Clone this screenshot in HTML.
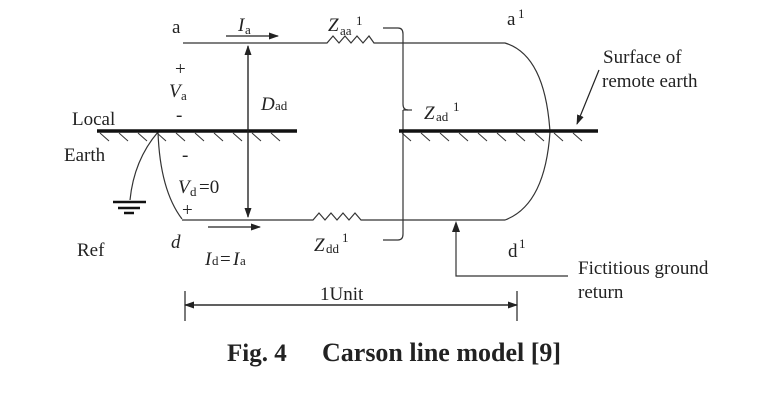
<!DOCTYPE html>
<html><head><meta charset="utf-8"><style>
html,body{margin:0;padding:0;background:#fff;}
svg{display:block;font-family:"Liberation Serif",serif;}
</style></head><body>
<svg width="772" height="408" viewBox="0 0 772 408" xmlns="http://www.w3.org/2000/svg">
<defs>
<marker id="ah" markerWidth="10" markerHeight="8" refX="9" refY="4" orient="auto" markerUnits="userSpaceOnUse"><path d="M0,0.5 L10,4 L0,7.5 Z" fill="#222"/></marker>
</defs>
<g fill="none" stroke="#333" stroke-width="1.2">
<path d="M183,43 H327 l6,-7 l6,7 l6,-7 l6,7 l6,-7 l6,7 l6,-7 l5,7 H505 Q545,55 550,132 Q545,205 505,220 H361 l-6,-7 l-6,7 l-6,-7 l-6,7 l-6,-7 l-6,7 l-6,-7 l-6,7 H182"/>
<path d="M182,219 Q160,190 158,132"/>
<path d="M158,132 Q134,160 130,200"/>
<path d="M383,28 H398 Q403,28 403,34 V104 Q403,110 408,110 M403,110 Q403,116 403,120 V234 Q403,240 398,240 H383"/>
<path d="M403,110 H412"/>
<path d="M568,276 H456 V228"/>
</g>
<path d="M456,221 L452,232 L460,232 Z" fill="#222"/>
<g stroke="#111" stroke-width="3.5">
<line x1="97" y1="131" x2="297" y2="131"/>
<line x1="399" y1="131" x2="598" y2="131"/>
</g>
<g stroke="#333" stroke-width="1">
<path d="M100,133 l9,8 M119,133 l9,8 M138,133 l9,8 M157,133 l9,8 M176,133 l9,8 M195,133 l9,8 M214,133 l9,8 M233,133 l9,8 M252,133 l9,8 M271,133 l9,8"/>
<path d="M402,133 l9,8 M421,133 l9,8 M440,133 l9,8 M459,133 l9,8 M478,133 l9,8 M497,133 l9,8 M516,133 l9,8 M535,133 l9,8 M554,133 l9,8 M573,133 l9,8"/>
</g>
<g stroke="#111" stroke-width="2.5">
<line x1="113" y1="202" x2="146" y2="202"/>
<line x1="118" y1="208" x2="140" y2="208"/>
<line x1="124" y1="213" x2="134" y2="213"/>
</g>
<g stroke="#222" stroke-width="1.2" fill="none">
<line x1="248" y1="46" x2="248" y2="217" marker-end="url(#ah)"/>
<line x1="248" y1="217" x2="248" y2="46" marker-end="url(#ah)"/>
<line x1="226" y1="36" x2="278" y2="36" marker-end="url(#ah)"/>
<line x1="208" y1="227" x2="260" y2="227" marker-end="url(#ah)"/>
<line x1="599" y1="70" x2="577" y2="124" marker-end="url(#ah)"/>
<line x1="185" y1="305" x2="517" y2="305" marker-end="url(#ah)"/>
<line x1="517" y1="305" x2="185" y2="305" marker-end="url(#ah)"/>
<line x1="185" y1="291" x2="185" y2="321"/>
<line x1="517" y1="291" x2="517" y2="321"/>
</g>
<g fill="#222" font-size="19">
<text x="172" y="33">a</text>
<text x="238" y="31" font-style="italic">I</text><text x="245" y="34" font-size="13">a</text>
<text x="328" y="31" font-style="italic">Z</text><text x="340" y="35" font-size="13">aa</text><text x="356" y="25" font-size="13">1</text>
<text x="507" y="25">a</text><text x="518" y="18" font-size="13">1</text>
<text x="175" y="75">+</text>
<text x="169" y="97" font-style="italic">V</text><text x="181" y="100" font-size="13">a</text>
<text x="261" y="110" font-style="italic">D</text><text x="275" y="110" font-size="13">ad</text>
<text x="176" y="121">-</text>
<text x="72" y="125">Local</text>
<text x="64" y="161">Earth</text>
<text x="182" y="161">-</text>
<text x="178" y="193" font-style="italic">V</text><text x="190" y="196" font-size="13">d</text><text x="199" y="193">=0</text>
<text x="182" y="216">+</text>
<text x="77" y="256">Ref</text>
<text x="171" y="248" font-style="italic">d</text>
<text x="205" y="265" font-style="italic">I</text><text x="212" y="265" font-size="13">d</text><text x="220" y="265">=</text><text x="233" y="265" font-style="italic">I</text><text x="240" y="265" font-size="13">a</text>
<text x="314" y="251" font-style="italic">Z</text><text x="326" y="253" font-size="13">dd</text><text x="342" y="242" font-size="13">1</text>
<text x="424" y="119" font-style="italic">Z</text><text x="436" y="121" font-size="13">ad</text><text x="453" y="111" font-size="13">1</text>
<text x="508" y="257">d</text><text x="519" y="248" font-size="13">1</text>
<text x="603" y="63">Surface of</text>
<text x="602" y="87">remote earth</text>
<text x="578" y="274">Fictitious ground</text>
<text x="578" y="298">return</text>
<text x="320" y="300">1Unit</text>
<text x="227" y="361" font-size="25" font-weight="bold">Fig. 4</text>
<text x="322" y="361" font-size="26" font-weight="bold">Carson line model [9]</text>
</g>
</svg>
</body></html>
